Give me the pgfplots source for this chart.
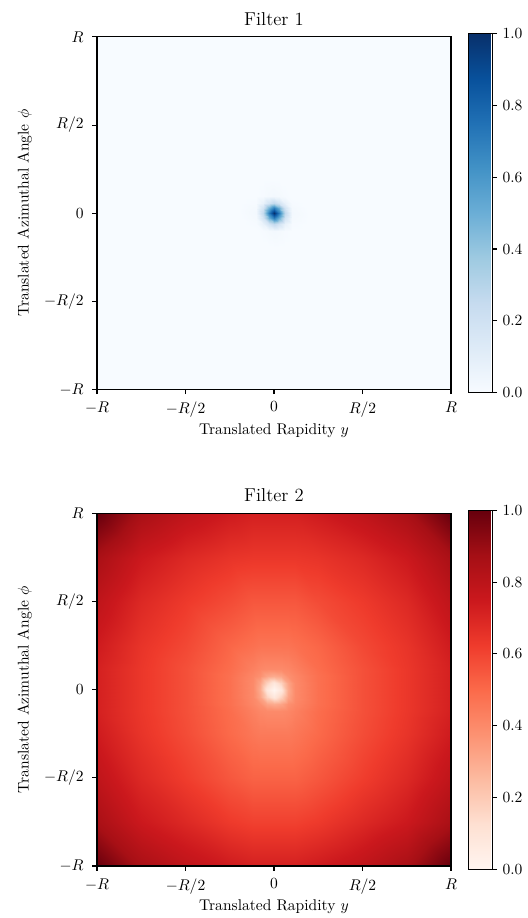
\documentclass[border=0pt]{standalone}
\usepackage{pgfplots}
\pgfplotsset{compat=1.18}
\usepackage{pgfplotstable}

\pgfplotsset{
  colormap={myblues}{rgb255=(247,251,255) rgb255=(222,235,247) rgb255=(198,219,239) rgb255=(158,202,225) rgb255=(107,174,214) rgb255=(66,146,198) rgb255=(33,113,181) rgb255=(8,81,156) rgb255=(8,48,107)},
  colormap={myreds}{rgb255=(255,245,240) rgb255=(254,224,210) rgb255=(252,187,161) rgb255=(252,146,114) rgb255=(251,106,74) rgb255=(239,59,44) rgb255=(203,24,29) rgb255=(165,15,21) rgb255=(103,0,13)},
  filt/.style={
    width=228pt, height=227pt, scale only axis,
    xmin=-1, xmax=1, ymin=-1, ymax=1, enlargelimits=false,
    axis on top,
    xtick={-1,-0.5,0,0.5,1}, xticklabels={$-R$,$-R/2$,$0$,$R/2$,$R$},
    ytick={-1,-0.5,0,0.5,1}, yticklabels={$-R$,$-R/2$,$0$,$R/2$,$R$},
    tick pos=left, tick align=outside, major tick length=3.1pt,
    axis line style={line width=0.7pt}, every tick/.style={black, line width=0.7pt},
    xticklabel style={yshift=-1.5pt},
    yticklabel style={xshift=-2pt},
    title style={font=\large, yshift=-2pt},
    xlabel={Translated Rapidity $y$}, ylabel={Translated Azimuthal Angle $\phi$},
    xlabel style={yshift=3pt},
    ylabel style={yshift=1pt},
    point meta min=0, point meta max=1,
    colorbar,
    colorbar style={
      at={(parent axis.east)}, anchor=west, xshift=2.6pt,
      width=15.5pt, height=231pt,
      ytick={0,0.2,0.4,0.6,0.8,1},
      yticklabel style={/pgf/number format/.cd, fixed, fixed zerofill, precision=1},
      ytick pos=right, tick align=outside, major tick length=3.1pt,
      axis line style={line width=0.7pt}, every tick/.style={black, line width=0.7pt},
    },
  },
}

\pgfplotstableread{
x y z
-1 -1 0
-0.2 -1 0
-0.1 -1 0
-0.06 -1 0
-0.03 -1 0
0 -1 0
0.03 -1 0
0.06 -1 0
0.1 -1 0
0.2 -1 0
1 -1 0
-1 -0.2 0
-0.2 -0.2 0
-0.1 -0.2 0
-0.06 -0.2 0
-0.03 -0.2 0
0 -0.2 0
0.03 -0.2 0
0.06 -0.2 0
0.1 -0.2 0
0.2 -0.2 0
1 -0.2 0
-1 -0.1 0
-0.2 -0.1 0
-0.1 -0.1 0
-0.06 -0.1 0.006
-0.03 -0.1 0.016
0 -0.1 0.022
0.03 -0.1 0.016
0.06 -0.1 0.006
0.1 -0.1 0
0.2 -0.1 0
1 -0.1 0
-1 -0.06 0
-0.2 -0.06 0
-0.1 -0.06 0.006
-0.06 -0.06 0.07
-0.03 -0.06 0.18
0 -0.06 0.26
0.03 -0.06 0.18
0.06 -0.06 0.07
0.1 -0.06 0.006
0.2 -0.06 0
1 -0.06 0
-1 -0.03 0
-0.2 -0.03 0
-0.1 -0.03 0.016
-0.06 -0.03 0.18
-0.03 -0.03 0.50
0 -0.03 0.71
0.03 -0.03 0.50
0.06 -0.03 0.18
0.1 -0.03 0.016
0.2 -0.03 0
1 -0.03 0
-1 0 0
-0.2 0 0
-0.1 0 0.022
-0.06 0 0.26
-0.03 0 0.71
0 0 1
0.03 0 0.71
0.06 0 0.26
0.1 0 0.022
0.2 0 0
1 0 0
-1 0.03 0
-0.2 0.03 0
-0.1 0.03 0.016
-0.06 0.03 0.18
-0.03 0.03 0.50
0 0.03 0.71
0.03 0.03 0.50
0.06 0.03 0.18
0.1 0.03 0.016
0.2 0.03 0
1 0.03 0
-1 0.06 0
-0.2 0.06 0
-0.1 0.06 0.006
-0.06 0.06 0.07
-0.03 0.06 0.18
0 0.06 0.26
0.03 0.06 0.18
0.06 0.06 0.07
0.1 0.06 0.006
0.2 0.06 0
1 0.06 0
-1 0.1 0
-0.2 0.1 0
-0.1 0.1 0
-0.06 0.1 0.006
-0.03 0.1 0.016
0 0.1 0.022
0.03 0.1 0.016
0.06 0.1 0.006
0.1 0.1 0
0.2 0.1 0
1 0.1 0
-1 0.2 0
-0.2 0.2 0
-0.1 0.2 0
-0.06 0.2 0
-0.03 0.2 0
0 0.2 0
0.03 0.2 0
0.06 0.2 0
0.1 0.2 0
0.2 0.2 0
1 0.2 0
-1 1 0
-0.2 1 0
-0.1 1 0
-0.06 1 0
-0.03 1 0
0 1 0
0.03 1 0
0.06 1 0
0.1 1 0
0.2 1 0
1 1 0
}\filterone

\pgfplotstableread{
x y z
-1 -1 1.0
-0.75 -1 0.86
-0.5 -1 0.79
-0.25 -1 0.74
-0.12 -1 0.72
-0.08 -1 0.72
-0.04 -1 0.72
0 -1 0.72
0.04 -1 0.72
0.08 -1 0.72
0.12 -1 0.72
0.25 -1 0.74
0.5 -1 0.79
0.75 -1 0.86
1 -1 1.0
-1 -0.75 0.86
-0.75 -0.75 0.75
-0.5 -0.75 0.69
-0.25 -0.75 0.63
-0.12 -0.75 0.61
-0.08 -0.75 0.61
-0.04 -0.75 0.61
0 -0.75 0.61
0.04 -0.75 0.61
0.08 -0.75 0.61
0.12 -0.75 0.61
0.25 -0.75 0.63
0.5 -0.75 0.69
0.75 -0.75 0.75
1 -0.75 0.86
-1 -0.5 0.79
-0.75 -0.5 0.69
-0.5 -0.5 0.62
-0.25 -0.5 0.55
-0.12 -0.5 0.52
-0.08 -0.5 0.52
-0.04 -0.5 0.52
0 -0.5 0.52
0.04 -0.5 0.52
0.08 -0.5 0.52
0.12 -0.5 0.52
0.25 -0.5 0.55
0.5 -0.5 0.62
0.75 -0.5 0.69
1 -0.5 0.79
-1 -0.25 0.74
-0.75 -0.25 0.65
-0.5 -0.25 0.58
-0.25 -0.25 0.50
-0.12 -0.25 0.46
-0.08 -0.25 0.45
-0.04 -0.25 0.45
0 -0.25 0.45
0.04 -0.25 0.45
0.08 -0.25 0.45
0.12 -0.25 0.46
0.25 -0.25 0.50
0.5 -0.25 0.58
0.75 -0.25 0.65
1 -0.25 0.74
-1 -0.12 0.72
-0.75 -0.12 0.64
-0.5 -0.12 0.57
-0.25 -0.12 0.49
-0.12 -0.12 0.43
-0.08 -0.12 0.41
-0.04 -0.12 0.40
0 -0.12 0.40
0.04 -0.12 0.40
0.08 -0.12 0.41
0.12 -0.12 0.43
0.25 -0.12 0.49
0.5 -0.12 0.57
0.75 -0.12 0.64
1 -0.12 0.72
-1 -0.08 0.72
-0.75 -0.08 0.64
-0.5 -0.08 0.57
-0.25 -0.08 0.48
-0.12 -0.08 0.41
-0.08 -0.08 0.38
-0.04 -0.08 0.32
0 -0.08 0.30
0.04 -0.08 0.32
0.08 -0.08 0.38
0.12 -0.08 0.41
0.25 -0.08 0.48
0.5 -0.08 0.57
0.75 -0.08 0.64
1 -0.08 0.72
-1 -0.04 0.72
-0.75 -0.04 0.64
-0.5 -0.04 0.57
-0.25 -0.04 0.48
-0.12 -0.04 0.40
-0.08 -0.04 0.32
-0.04 -0.04 0.17
0 -0.04 0.08
0.04 -0.04 0.17
0.08 -0.04 0.32
0.12 -0.04 0.40
0.25 -0.04 0.48
0.5 -0.04 0.57
0.75 -0.04 0.64
1 -0.04 0.72
-1 0 0.72
-0.75 0 0.64
-0.5 0 0.57
-0.25 0 0.48
-0.12 0 0.40
-0.08 0 0.30
-0.04 0 0.08
0 0 0
0.04 0 0.08
0.08 0 0.30
0.12 0 0.40
0.25 0 0.48
0.5 0 0.57
0.75 0 0.64
1 0 0.72
-1 0.04 0.72
-0.75 0.04 0.64
-0.5 0.04 0.57
-0.25 0.04 0.48
-0.12 0.04 0.40
-0.08 0.04 0.32
-0.04 0.04 0.17
0 0.04 0.08
0.04 0.04 0.17
0.08 0.04 0.32
0.12 0.04 0.40
0.25 0.04 0.48
0.5 0.04 0.57
0.75 0.04 0.64
1 0.04 0.72
-1 0.08 0.72
-0.75 0.08 0.64
-0.5 0.08 0.57
-0.25 0.08 0.48
-0.12 0.08 0.41
-0.08 0.08 0.38
-0.04 0.08 0.32
0 0.08 0.30
0.04 0.08 0.32
0.08 0.08 0.38
0.12 0.08 0.41
0.25 0.08 0.48
0.5 0.08 0.57
0.75 0.08 0.64
1 0.08 0.72
-1 0.12 0.72
-0.75 0.12 0.64
-0.5 0.12 0.57
-0.25 0.12 0.49
-0.12 0.12 0.43
-0.08 0.12 0.41
-0.04 0.12 0.40
0 0.12 0.40
0.04 0.12 0.40
0.08 0.12 0.41
0.12 0.12 0.43
0.25 0.12 0.49
0.5 0.12 0.57
0.75 0.12 0.64
1 0.12 0.72
-1 0.25 0.74
-0.75 0.25 0.65
-0.5 0.25 0.59
-0.25 0.25 0.51
-0.12 0.25 0.48
-0.08 0.25 0.47
-0.04 0.25 0.47
0 0.25 0.47
0.04 0.25 0.47
0.08 0.25 0.47
0.12 0.25 0.48
0.25 0.25 0.51
0.5 0.25 0.59
0.75 0.25 0.65
1 0.25 0.74
-1 0.5 0.79
-0.75 0.5 0.69
-0.5 0.5 0.63
-0.25 0.5 0.58
-0.12 0.5 0.55
-0.08 0.5 0.55
-0.04 0.5 0.55
0 0.5 0.55
0.04 0.5 0.55
0.08 0.5 0.55
0.12 0.5 0.55
0.25 0.5 0.58
0.5 0.5 0.63
0.75 0.5 0.69
1 0.5 0.79
-1 0.75 0.86
-0.75 0.75 0.75
-0.5 0.75 0.69
-0.25 0.75 0.65
-0.12 0.75 0.64
-0.08 0.75 0.64
-0.04 0.75 0.64
0 0.75 0.64
0.04 0.75 0.64
0.08 0.75 0.64
0.12 0.75 0.64
0.25 0.75 0.65
0.5 0.75 0.69
0.75 0.75 0.75
1 0.75 0.86
-1 1 1.0
-0.75 1 0.86
-0.5 1 0.79
-0.25 1 0.74
-0.12 1 0.72
-0.08 1 0.72
-0.04 1 0.72
0 1 0.72
0.04 1 0.72
0.08 1 0.72
0.12 1 0.72
0.25 1 0.74
0.5 1 0.79
0.75 1 0.86
1 1 1.0
}\filtertwo

\begin{document}
\begin{tikzpicture}
\begin{axis}[filt, at={(0,307pt)}, title={Filter 1}, colormap name=myblues]
\addplot[surf, shader=interp, mesh/cols=11, point meta=explicit] table[x=x, y=y, meta=z] {\filterone};
\end{axis}
\begin{axis}[filt, at={(0,0)}, title={Filter 2}, colormap name=myreds]
\addplot[surf, shader=interp, mesh/cols=15, point meta=explicit] table[x=x, y=y, meta=z] {\filtertwo};
\end{axis}
\pgfresetboundingbox
\path[use as bounding box] (-62.5pt,-33.5pt) rectangle (277pt,557.8pt);
\end{tikzpicture}
\end{document}
